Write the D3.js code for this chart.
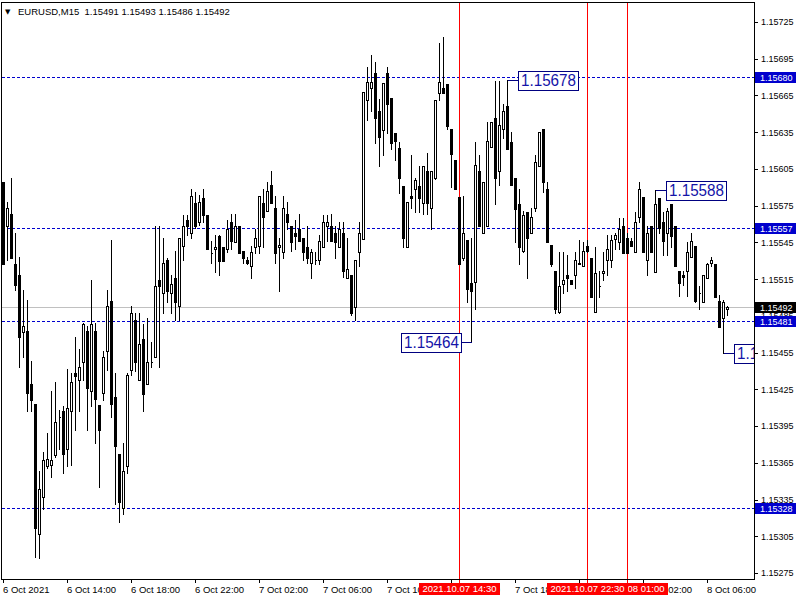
<!DOCTYPE html>
<html><head><meta charset="utf-8">
<script src="https://cdn.jsdelivr.net/npm/d3@7"></script>
<style>body{margin:0;background:#fff}svg{display:block}</style>
</head><body><svg id="c" width="800" height="600"></svg>
<script>
const title = "EURUSD,M15  1.15491 1.15493 1.15486 1.15492";
const open = [1.15594,1.15558,1.15568,1.15527,1.15518,1.15472,1.15473,1.15429,1.15413,1.15307,
1.15337,1.15362,1.15363,1.15371,1.15402,1.15407,1.15376,1.15407,1.15438,1.15433,
1.15447,1.15473,1.15424,1.15473,1.15412,1.15422,1.15456,1.15497,1.15419,1.15372,
1.15328,1.15362,1.15441,1.15482,1.15433,1.15466,1.15429,1.15447,1.15451,1.15514,
1.15504,1.15531,1.15504,1.15516,1.15493,1.15542,1.15563,1.15553,1.15577,1.15562,
1.15581,1.15567,1.15536,1.15540,1.15550,1.15541,1.15540,1.15562,1.15545,1.15558,
1.15538,1.15531,1.15526,1.15541,1.15542,1.15577,1.15571,1.15592,1.15573,1.15541,
1.15537,1.15568,1.15558,1.15553,1.15556,1.15549,1.15541,1.15528,1.15531,1.15531,
1.15541,1.15558,1.15558,1.15553,1.15541,1.15553,1.15516,1.15518,1.15492,1.15537,
1.15548,1.15661,1.15671,1.15683,1.15652,1.15637,1.15683,1.15663,1.15634,1.15622,
1.15591,1.15541,1.15583,1.15589,1.15591,1.15577,1.15603,1.15573,1.15598,1.15667,
1.15671,1.15674,1.15638,1.15612,1.15582,1.15532,1.15547,1.15512,1.15513,1.15603,
1.15553,1.15558,1.15623,1.15647,1.15603,1.15638,1.15656,1.15627,1.15598,1.15576,
1.15538,1.15570,1.15553,1.15573,1.15607,1.15638,1.15589,1.15543,1.15522,1.15488,
1.15511,1.15518,1.15514,1.15518,1.15527,1.15526,1.15542,1.15532,1.15488,1.15509,
1.15520,1.15531,1.15531,1.15548,1.15545,1.15558,1.15549,1.15546,1.15537,1.15566,
1.15582,1.15531,1.15558,1.15521,1.15581,1.15562,1.15553,1.15576,1.15558,1.15522,
1.15518,1.15522,1.15533,1.15542,1.15504,1.15496,1.15516,1.15528,1.15527,1.15497,
1.15483,1.15491];
const high = [1.15594,1.15578,1.15598,1.15553,1.15533,1.15506,1.15498,1.15448,1.15413,1.15358,
1.15374,1.15389,1.15424,1.15431,1.15408,1.15411,1.15442,1.15438,1.15468,1.15458,
1.15479,1.15477,1.15514,1.15479,1.15412,1.15456,1.15506,1.15547,1.15438,1.15372,
1.15381,1.15438,1.15493,1.15487,1.15487,1.15478,1.15483,1.15464,1.15558,1.15558,
1.15549,1.15532,1.15518,1.15538,1.15549,1.15567,1.15567,1.15589,1.15586,1.15584,
1.15589,1.15567,1.15546,1.15551,1.15551,1.15541,1.15563,1.15568,1.15568,1.15558,
1.15538,1.15533,1.15542,1.15556,1.15583,1.15589,1.15594,1.15603,1.15583,1.15549,
1.15583,1.15578,1.15558,1.15563,1.15568,1.15549,1.15558,1.15540,1.15537,1.15551,
1.15567,1.15567,1.15568,1.15558,1.15562,1.15562,1.15549,1.15518,1.15531,1.15562,
1.15668,1.15688,1.15698,1.15692,1.15662,1.15675,1.15688,1.15663,1.15634,1.15627,
1.15591,1.15578,1.15616,1.15598,1.15607,1.15607,1.15618,1.15603,1.15661,1.15708,
1.15713,1.15674,1.15638,1.15612,1.15582,1.15583,1.15547,1.15549,1.15627,1.15616,
1.15594,1.15643,1.15643,1.15677,1.15677,1.15658,1.15678,1.15635,1.15598,1.15589,
1.15571,1.15570,1.15573,1.15616,1.15635,1.15638,1.15594,1.15543,1.15522,1.15537,
1.15537,1.15535,1.15514,1.15537,1.15547,1.15545,1.15547,1.15532,1.15541,1.15522,
1.15537,1.15551,1.15551,1.15553,1.15565,1.15565,1.15553,1.15549,1.15570,1.15594,
1.15582,1.15558,1.15558,1.15588,1.15581,1.15570,1.15573,1.15576,1.15558,1.15522,
1.15522,1.15545,1.15553,1.15542,1.15509,1.15518,1.15528,1.15533,1.15527,1.15502,
1.15498,1.15493];
const low = [1.15527,1.15531,1.15532,1.15506,1.15443,1.15451,1.15407,1.15407,1.15288,1.15287,
1.15327,1.15361,1.15353,1.15370,1.15376,1.15357,1.15362,1.15363,1.15392,1.15407,
1.15433,1.15392,1.15411,1.15381,1.15345,1.15416,1.15441,1.15402,1.15331,1.15317,
1.15323,1.15357,1.15437,1.15440,1.15433,1.15407,1.15429,1.15443,1.15451,1.15443,
1.15487,1.15496,1.15487,1.15482,1.15482,1.15531,1.15551,1.15549,1.15557,1.15559,
1.15562,1.15540,1.15528,1.15521,1.15518,1.15530,1.15537,1.15540,1.15545,1.15536,
1.15528,1.15527,1.15516,1.15536,1.15536,1.15541,1.15571,1.15577,1.15528,1.15505,
1.15532,1.15556,1.15538,1.15540,1.15546,1.15531,1.15528,1.15516,1.15527,1.15527,
1.15541,1.15546,1.15546,1.15532,1.15541,1.15517,1.15516,1.15486,1.15482,1.15526,
1.15548,1.15645,1.15652,1.15626,1.15607,1.15616,1.15634,1.15621,1.15612,1.15585,
1.15541,1.15541,1.15573,1.15570,1.15570,1.15568,1.15568,1.15556,1.15597,1.15661,
1.15667,1.15638,1.15590,1.15589,1.15527,1.15531,1.15496,1.15464,1.15491,1.15558,
1.15553,1.15558,1.15623,1.15576,1.15592,1.15630,1.15621,1.15592,1.15545,1.15527,
1.15537,1.15516,1.15553,1.15571,1.15607,1.15586,1.15545,1.15526,1.15487,1.15487,
1.15504,1.15505,1.15511,1.15508,1.15527,1.15526,1.15537,1.15500,1.15488,1.15500,
1.15514,1.15518,1.15525,1.15540,1.15540,1.15536,1.15536,1.15542,1.15537,1.15562,
1.15537,1.15518,1.15537,1.15521,1.15553,1.15535,1.15535,1.15541,1.15526,1.15501,
1.15510,1.15501,1.15533,1.15496,1.15491,1.15496,1.15516,1.15526,1.15500,1.15476,
1.15455,1.15486];
const close = [1.15527,1.15573,1.15532,1.15510,1.15468,1.15477,1.15422,1.15416,1.15312,1.15344,
1.15367,1.15368,1.15367,1.15398,1.15402,1.15372,1.15410,1.15431,1.15436,1.15443,
1.15478,1.15426,1.15478,1.15417,1.15392,1.15451,1.15493,1.15413,1.15379,1.15333,
1.15358,1.15437,1.15487,1.15447,1.15462,1.15421,1.15447,1.15447,1.15509,1.15509,
1.15528,1.15505,1.15511,1.15496,1.15549,1.15558,1.15558,1.15583,1.15558,1.15578,
1.15567,1.15540,1.15536,1.15541,1.15530,1.15530,1.15556,1.15546,1.15558,1.15536,
1.15532,1.15528,1.15537,1.15549,1.15583,1.15566,1.15587,1.15577,1.15536,1.15543,
1.15573,1.15562,1.15545,1.15550,1.15546,1.15537,1.15532,1.15537,1.15531,1.15546,
1.15562,1.15562,1.15546,1.15545,1.15556,1.15522,1.15523,1.15487,1.15531,1.15553,
1.15668,1.15676,1.15676,1.15647,1.15631,1.15675,1.15658,1.15626,1.15628,1.15598,
1.15549,1.15578,1.15581,1.15596,1.15581,1.15607,1.15577,1.15603,1.15661,1.15676,
1.15667,1.15640,1.15617,1.15589,1.15527,1.15553,1.15507,1.15505,1.15608,1.15558,
1.15594,1.15628,1.15643,1.15598,1.15641,1.15652,1.15621,1.15592,1.15572,1.15541,
1.15567,1.15549,1.15566,1.15611,1.15635,1.15594,1.15545,1.15527,1.15491,1.15509,
1.15514,1.15516,1.15511,1.15531,1.15528,1.15538,1.15538,1.15500,1.15520,1.15509,
1.15522,1.15540,1.15547,1.15551,1.15556,1.15536,1.15536,1.15542,1.15562,1.15589,
1.15537,1.15553,1.15537,1.15576,1.15557,1.15546,1.15571,1.15550,1.15526,1.15512,
1.15517,1.15537,1.15546,1.15497,1.15504,1.15518,1.15527,1.15531,1.15500,1.15476,
1.15496,1.15492];

const tickIdx = [0,16,32,48,64,80,96,112,128,144,160,176];
const tickLabels = ["6 Oct 2021","6 Oct 14:00","6 Oct 18:00","6 Oct 22:00","7 Oct 02:00","7 Oct 06:00",
  "7 Oct 10:00","7 Oct 14:00","7 Oct 18:00","7 Oct 22:00","8 Oct 02:00","8 Oct 06:00"];
const priceTicks = [1.15725,1.15695,1.15665,1.15635,1.15605,1.15575,1.15545,1.15515,1.15485,
  1.15455,1.15425,1.15395,1.15365,1.15335,1.15305,1.15275];
const levels = [1.15680,1.15557,1.15481,1.15328];
const bid = 1.15492;
const vIdx = [114,146,156];
const vLabels = ["2021.10.07 14:30","2021.10.07 22:30","2021.10.08 01:00"];
const hlIdx = [126,117,163,180];
const hlPrice = [1.15678,1.15464,1.15588,1.15455];
const hlSide = ["r","l","r","r"];

const FONT = "'Liberation Sans', Arial, sans-serif";
const svg = d3.select("#c").attr("shape-rendering","crispEdges");
const x = d3.scaleLinear().domain([0, open.length - 1]).range([3, 727]);
const y = d3.scaleLinear().domain([1.15275, 1.15725]).range([573, 22]);
const px = i => Math.round(x(i));
const py = v => Math.round(y(v));

// bid line
svg.append("line").attr("x1", 2).attr("x2", 754)
  .attr("y1", py(bid) + 0.5).attr("y2", py(bid) + 0.5).attr("stroke", "#c0c0c0");
// dashed levels
svg.append("g").selectAll("line").data(levels).join("line")
  .attr("x1", 2).attr("x2", 754)
  .attr("y1", d => py(d) + 0.5).attr("y2", d => py(d) + 0.5)
  .attr("stroke", "#0000cd").attr("stroke-dasharray", "3,2");
// vertical red lines
svg.append("g").selectAll("line").data(vIdx).join("line")
  .attr("x1", d => px(d) + 0.5).attr("x2", d => px(d) + 0.5)
  .attr("y1", 2).attr("y2", 583).attr("stroke", "#ff0000");

// candles
const data = open.map((o, i) => ({ i, o, h: high[i], l: low[i], c: close[i] }));
const cg = svg.append("g");
cg.selectAll("line").data(data).join("line")
  .attr("x1", d => px(d.i) + 0.5).attr("x2", d => px(d.i) + 0.5)
  .attr("y1", d => py(d.h)).attr("y2", d => py(d.l) + 1)
  .attr("stroke", "#000");
cg.selectAll("path").data(data).join("path")
  .attr("d", d => {
    const t = py(Math.max(d.o, d.c)), b = py(Math.min(d.o, d.c));
    return `M${px(d.i) - 0.5},${t + 0.5}h2v${b - t}h-2Z`;
  })
  .attr("fill", d => d.c < d.o ? "#000" : "#fff").attr("stroke", "#000");

// high/low labels, clipped to the plot area by a nested svg viewport
const plot = svg.append("svg").attr("x", 0).attr("y", 0).attr("width", 754).attr("height", 579)
  .attr("overflow", "hidden");
const hl = plot.selectAll("g").data(hlIdx.map((d, k) => ({ i: d, p: hlPrice[k], s: hlSide[k] }))).join("g");
hl.each(function (d) {
  const g = d3.select(this);
  const cx = px(d.i), cy = py(d.p);
  const bx = d.s === "r" ? cx + 11 : cx - 10 - 60;
  g.append("line").attr("x1", cx + 0.5).attr("x2", d.s === "r" ? bx + 0.5 : bx + 60.5)
    .attr("y1", cy + 0.5).attr("y2", cy + 0.5).attr("stroke", "#000080");
  g.append("rect").attr("x", bx + 0.5).attr("y", cy - 9 + 0.5).attr("width", 60).attr("height", 19)
    .attr("fill", "#fff").attr("stroke", "#000080");
  g.append("text").attr("x", bx + 3).attr("y", cy + 6)
    .attr("font-family", FONT).attr("font-size", 16).attr("fill", "#1414a8")
    .attr("textLength", 55).attr("lengthAdjust", "spacingAndGlyphs")
    .attr("shape-rendering", "auto")
    .text(d.p.toFixed(5));
});

// frame
svg.append("path").attr("d", "M1.5,2.5H754.5V579.5H1.5Z").attr("fill", "none").attr("stroke", "#000");

// price axis
const ay = d3.axisRight(y).tickValues(priceTicks).tickFormat(d3.format(".5f")).tickSizeInner(3).tickSizeOuter(0).tickPadding(3);
const gy = svg.append("g").attr("transform", "translate(755,0)").call(ay);
gy.select(".domain").remove();
gy.selectAll("line").attr("stroke", "#000");
gy.selectAll("text").attr("font-family", FONT).attr("font-size", 9).attr("fill", "#000");

// time axis
const ax = d3.axisBottom(x).tickValues(tickIdx).tickFormat((d, k) => tickLabels[k]).tickSizeInner(4).tickSizeOuter(0).tickPadding(3);
const gx = svg.append("g").attr("transform", "translate(0,579)").call(ax);
gx.select(".domain").remove();
gx.selectAll("line").attr("stroke", "#000");
gx.selectAll("text").attr("font-family", FONT).attr("font-size", 9.5).attr("fill", "#000")
  .attr("text-anchor", "start").attr("x", -0.5);

// level labels
const lv = svg.append("g").selectAll("g").data(levels).join("g");
lv.append("rect").attr("x", 755).attr("y", d => py(d) - 5).attr("width", 41).attr("height", 11).attr("fill", "#0000cd");
lv.append("text").attr("x", 760).attr("y", d => py(d) + 4)
  .attr("font-family", FONT).attr("font-size", 9).attr("fill", "#fff").text(d => d.toFixed(5));
// bid label
svg.append("rect").attr("x", 755).attr("y", py(bid) - 5).attr("width", 41).attr("height", 11).attr("fill", "#000");
svg.append("text").attr("x", 760).attr("y", py(bid) + 4)
  .attr("font-family", FONT).attr("font-size", 9).attr("fill", "#fff").text(bid.toFixed(5));

// red time labels (later lines drawn first, earlier on top)
const order = vIdx.map((d, k) => k).reverse();
order.forEach(k => {
  const g = svg.append("g");
  const t = g.append("text").attr("y", 592).attr("font-family", FONT).attr("font-size", 9.5)
    .attr("fill", "#fff").attr("text-anchor", "middle").attr("x", px(vIdx[k]) + 0.5).text(vLabels[k]);
  const w = t.node().getComputedTextLength() + 7;
  g.insert("rect", "text").attr("x", px(vIdx[k]) + 0.5 - w / 2).attr("y", 583).attr("width", w).attr("height", 12).attr("fill", "#ff0000");
});

// title
svg.append("text").attr("x", 5).attr("y", 14).attr("font-family", "DejaVu Sans").attr("font-size", 7).text("▼");
svg.append("text").attr("x", 18).attr("y", 15).attr("font-family", FONT).attr("font-size", 9.5)
  .attr("xml:space", "preserve").style("white-space", "pre").text(title);
</script>
</body></html>
